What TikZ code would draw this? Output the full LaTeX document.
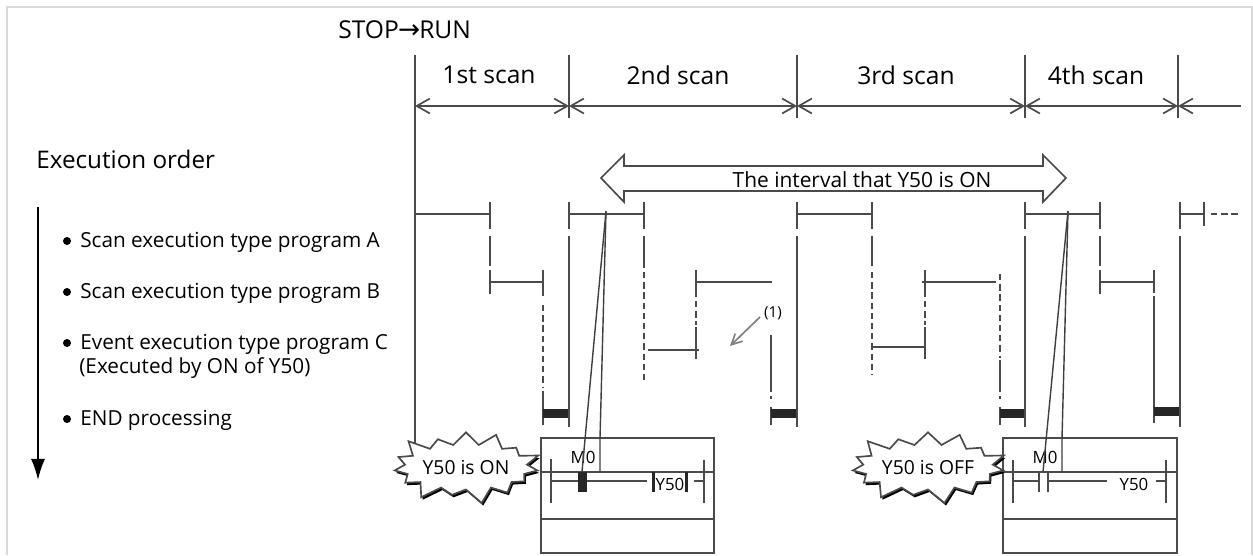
\documentclass[tikz,border=0pt]{standalone}
\usepackage{fontspec}
\setmainfont{Open Sans}
\newfontfamily\symfont{DejaVu Sans}
\usetikzlibrary{arrows.meta,shapes.symbols,shadows}
\definecolor{linegray}{HTML}{4A4A4A}
\tikzset{
  tick/.style={draw=linegray, line width=0.95pt},
  dashtick/.style={tick, dash pattern=on 3.6pt off 2.2pt},
  scanspan/.style={linegray, line width=0.95pt, {Straight Barb[length=7.5pt,width=8.5pt]}-{Straight Barb[length=7.5pt,width=8.5pt]}},
  refline/.style={draw=linegray!85!black, line width=0.8pt},
  label/.style={inner sep=0pt, anchor=west},
  heading/.style={font=\fontsize{14pt}{16pt}\selectfont},
  noteburst/.style={starburst, starburst points=15, starburst point height=0.34cm,
    draw=linegray, line width=0.95pt, fill=white, minimum width=2.9cm, minimum height=1.58cm,
    inner sep=0pt, font=\fontsize{11pt}{13pt}\selectfont,
    drop shadow={shadow xshift=0.03cm, shadow yshift=-0.05cm, fill=black, opacity=1}},
  laddertext/.style={inner sep=0pt, font=\fontsize{9.6pt}{11pt}\selectfont}
}
\begin{document}
\begin{tikzpicture}[x=0.02cm, y=-0.02cm, font=\fontsize{11.8pt}{14pt}\selectfont]
  \useasboundingbox (0,0) rectangle (1253,555);

  % Outer frame
  \draw[black!15, line width=0.9pt] (7,555) -- (7,7) -- (1252,7) -- (1252,555);

  % Titles
  \node[label, heading] (stoprun) at (338,30) {STOP{\symfont\fontsize{15pt}{16pt}\selectfont\kern-0.5pt→\kern-0.5pt}RUN};
  \node[label, font=\fontsize{13.8pt}{16pt}\selectfont] (order) at (36,159) {Execution order};

  % Execution order arrow
  \coordinate (ordertop) at (38,207);
  \coordinate (orderend) at (38,480);
  \draw[black, line width=1pt, -{Latex[length=12pt,width=8pt]}] (ordertop) -- (orderend);

  % Program list
  \fill (67,241) circle (4);
  \node[label] (proga) at (80,242) {Scan execution type program A};
  \fill (67,292) circle (4);
  \node[label] (progb) at (80,293) {Scan execution type program B};
  \fill (67,343) circle (4);
  \node[label] (progc) at (80,344) {Event execution type program C};
  \node[label] (progcnote) at (79,368) {(Executed by ON of Y50)};
  \fill (67,419) circle (4);
  \node[label] (endproc) at (80,420) {END processing};

  % Scan boundaries
  \draw[tick] (415,55) -- (415,445);
  \draw[tick] (569,55) -- (569,118);
  \draw[tick] (797,55) -- (797,118);
  \draw[tick] (1025,55) -- (1025,118);
  \draw[tick] (1178,55) -- (1178,118);

  % Scan spans
  \coordinate (s0) at (415,106);
  \coordinate (s1) at (569,106);
  \coordinate (s2) at (797,106);
  \coordinate (s3) at (1025,106);
  \coordinate (s4) at (1178,106);
  \coordinate (s5) at (1241,106);
  \draw[scanspan] (s0) -- (s1);
  \draw[scanspan] (s1) -- (s2);
  \draw[scanspan] (s2) -- (s3);
  \draw[scanspan] (s3) -- (s4);
  \draw[scanspan, {Straight Barb[length=7.5pt,width=8.5pt]}-] (s4) -- (s5);
  \node[heading] (scana) at (489,75) {1st scan};
  \node[heading] (scanb) at (678,75) {2nd scan};
  \node[heading] (scanc) at (906,75) {3rd scan};
  \node[heading] (scand) at (1096,75) {4th scan};

  % Interval that Y50 is ON
  \draw[tick, fill=white] (601,178) -- (624,155) -- (624,166) -- (1043,166) -- (1043,155) -- (1066,178)
    -- (1043,202) -- (1043,191) -- (624,191) -- (624,202) -- cycle;
  \node[font=\fontsize{11.9pt}{14pt}\selectfont] (intervaltext) at (862,180) {The interval that Y50 is ON};

  % 1st scan
  \draw[tick] (415,214) -- (490,214);
  \draw[tick] (490,202) -- (490,229) (490,236) -- (490,266) (490,270) -- (490,294);
  \draw[tick] (490,282) -- (543,282);
  \draw[tick] (543,270) -- (543,296) (543,391) -- (543,425);
  \draw[dashtick] (543,305) -- (543,388);
  \fill[black!85] (543,409) rectangle (569,418);
  \draw[tick] (569,202) -- (569,229) (569,236) -- (569,427);

  % 2nd scan
  \draw[tick] (569,214) -- (644,214);
  \draw[tick] (644,202) -- (644,229) (644,236) -- (644,268);
  \draw[dashtick] (644,272) -- (644,380);
  \draw[tick] (648,350) -- (699,350);
  \draw[tick] (696,270) -- (696,297) (696,327) -- (696,359);
  \draw[dashtick] (696,301) -- (696,325);
  \draw[tick] (696,282) -- (772,282);
  \draw[tick] (771,335) -- (771,392) (771,396) -- (771,399) (771,407) -- (771,425);
  \fill[black!85] (771,409) rectangle (797,418);
  \draw[tick] (797,202) -- (797,229) (797,236) -- (797,427);

  % Label (1)
  \node[inner sep=0pt, font=\fontsize{8.6pt}{10pt}\selectfont] (mark) at (773,313) {(1)};
  \coordinate (marktip) at (730,346);
  \draw[black!50, line width=0.95pt, -{Straight Barb[length=6pt,width=6pt]}] (760,317) -- (marktip);

  % 3rd scan
  \draw[tick] (797,214) -- (872,214);
  \draw[tick] (872,202) -- (872,229) (872,236) -- (872,266);
  \draw[dashtick] (872,272) -- (872,375);
  \draw[tick] (872,347) -- (925,347);
  \draw[tick] (925,270) -- (925,297) (925,327) -- (925,359);
  \draw[dashtick] (925,301) -- (925,325);
  \draw[tick] (922,282) -- (996,282);
  \draw[dashtick] (1000,274) -- (1000,358);
  \draw[tick] (1000,360) -- (1000,392) (1000,396) -- (1000,399) (1000,407) -- (1000,425);
  \fill[black!85] (1000,409) rectangle (1025,418);
  \draw[tick] (1025,202) -- (1025,229) (1025,236) -- (1025,427);

  % 4th scan
  \draw[tick] (1025,214) -- (1100,214);
  \draw[tick] (1100,202) -- (1100,229) (1100,236) -- (1100,266) (1100,270) -- (1100,294);
  \draw[tick] (1100,282) -- (1154,282);
  \draw[tick] (1154,270) -- (1154,293) (1154,296) -- (1154,423);
  \fill[black!85] (1154,407) rectangle (1180,416);
  \draw[tick] (1180,202) -- (1180,229) (1180,236) -- (1180,427);

  % Next scan
  \draw[tick] (1180,214) -- (1204,214);
  \draw[tick] (1204,202) -- (1204,226);
  \draw[dashtick] (1211,214) -- (1240,214);

  % Left ladder box
  \draw[tick] (541,438) rectangle (714,553);
  \draw[tick] (541,519) -- (714,519);
  \draw[tick] (541,472) -- (714,472);
  \draw[tick] (551,459) -- (551,503) (704,460) -- (704,503);
  \draw[tick] (551,481) -- (647,481) (694,481) -- (704,481);
  \fill[black!85] (578,472) rectangle (587,492);
  \fill[black!85] (652,472) rectangle (655,492);
  \fill[black!85] (685,472) rectangle (688,492);
  \node[laddertext] (contacta) at (583,457) {M0};
  \node[laddertext] (coila) at (670,484) {Y50};

  % Right ladder box
  \draw[tick] (1003,438) rectangle (1177,553);
  \draw[tick] (1003,519) -- (1177,519);
  \draw[tick] (1003,472) -- (1177,472);
  \draw[tick] (1013,460) -- (1013,503) (1166,460) -- (1166,503);
  \draw[tick] (1013,481) -- (1039,481) (1048,481) -- (1107,481) (1156,481) -- (1166,481);
  \draw[tick] (1039,472) -- (1039,492) (1048,472) -- (1048,492);
  \node[laddertext] (contactb) at (1045,457) {M0};
  \node[laddertext] (coilb) at (1134,484) {Y50};

  % Reference lines to the ladders
  \coordinate (refa) at (606,211);
  \coordinate (refb) at (1068,211);
  \draw[refline] (refa) -- (582,472);
  \draw[refline] (refa) -- (600,438) -- (600,472);
  \draw[refline] (refb) -- (1043,472);
  \draw[refline] (refb) -- (1062,438) -- (1062,472);

  % Status bursts
  \node[noteburst] (burston) at (466,467) {Y50 is ON};
  \node[noteburst] (burstoff) at (928,467) {Y50 is OFF};
\end{tikzpicture}
\end{document}
